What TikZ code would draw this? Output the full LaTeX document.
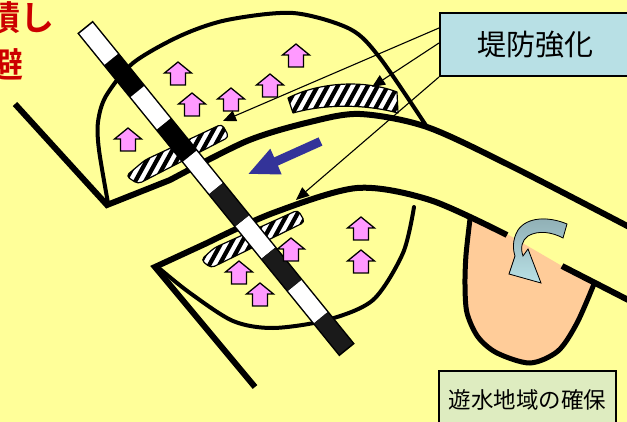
\documentclass[tikz,border=0pt]{standalone}
\usepackage{fontspec}
\newfontfamily\jp{Noto Sans CJK JP}[BoldFont={Noto Sans CJK JP Bold}]
\usetikzlibrary{arrows.meta,calc}

\definecolor{paper}{RGB}{255,255,153}
\definecolor{basin}{RGB}{255,204,153}
\definecolor{roof}{RGB}{255,153,255}
\definecolor{flow}{RGB}{51,51,153}
\definecolor{boxblue}{RGB}{184,224,229}
\definecolor{boxgreen}{RGB}{222,236,192}
\definecolor{alarm}{RGB}{204,0,0}
\definecolor{railgray}{RGB}{26,26,26}
\definecolor{inflowtop}{RGB}{143,174,180}
\definecolor{inflowbot}{RGB}{185,225,230}

% a house: roof apex at (#1,#2)
\newcommand\hut[2]{%
  \filldraw[fill=roof, draw=black, line width=1.3pt, line join=miter]
    (#1,#2) -- ++(13.5,11) -- ++(-6,0) -- ++(0,12) -- ++(-15,0) -- ++(0,-12) -- ++(-6,0) -- cycle;}

% a striped levee reinforcement patch
\newcommand\hatched[1]{%
  \begin{scope}
    \clip #1;
    \fill[white] (0,0) rectangle (627,422);
    \foreach \hx in {-200,-190,...,440}
      {\draw[line width=4.2pt] (\hx,300) -- ++(165,-300);}
  \end{scope}
  \draw[line width=1.2pt, line join=round] #1;}

\begin{document}
\begin{tikzpicture}[x=1pt,y=-1pt,
  bank/.style={line width=6pt},
  ringlevee/.style={line width=4pt, line cap=round},
  ptr/.style={line width=1.1pt, -{Triangle[length=13pt,width=11pt]}},
  labelbox/.style={draw, line width=2pt, anchor=north west, inner sep=0pt},
  warning/.style={anchor=base east, text=alarm, inner sep=0pt,
    font=\jp\bfseries\fontsize{34}{34}\selectfont}]

\useasboundingbox (0,0) rectangle (627,422);
\clip (0,0) rectangle (627,422);
\fill[paper] (0,0) rectangle (627,422);

% retarding basin
\fill[basin] (468,216) -- (507,234) -- (562,266) -- (596,283) --
  plot[smooth] coordinates {(594,284) (577,323) (558,351) (530,363) (497,353)
    (478,337) (467,313) (465,280) (468,240) (470,218)} -- cycle;

% reinforced levee sections
\hatched{[rounded corners=4pt] (126,176) -- (145,160) -- (222,124) -- (229,137) -- (138,184) -- cycle}
\hatched{(288,98) .. controls (315,84) and (360,78) .. (397,92) -- (398,113) .. controls (365,104) and (325,104) .. (293,113) -- cycle}
\hatched{[rounded corners=4pt] (201,260) -- (214,248) -- (298,210) -- (305,222) -- (211,268) -- cycle}

% river banks
\draw[bank] (15,104) -- (107,205) -- plot[smooth] coordinates {(170,180) (247,141) (310,122)
  (360,114) (427,127) (513,167) (635,230)};
\draw[bank] (255,387) -- (155,267) -- plot[smooth] coordinates {(207,243) (273,213) (357,188)
  (430,200) (507,235)};
\draw[bank] (562,266) -- (640,306);

% ring levees
\draw[ringlevee] plot[smooth] coordinates {(108,203) (99,150) (98,122) (106,96) (133,63)
  (180,36) (227,20) (293,13) (350,29) (380,58) (427,127)};
\draw[ringlevee] plot[smooth] coordinates {(160,269) (190,293) (233,321) (273,328)
  (327,320) (373,300) (403,253) (414,207)};

% basin rim
\draw[line width=5pt] plot[smooth] coordinates {(470,219) (466,255) (465,285) (467,313)
  (478,337) (497,353) (530,363) (558,351) (577,323) (594,284)};

% railway
\coordinate (railA) at (85,27);
\coordinate (railB) at (347,350);
\draw[line width=20pt] (railA) -- (railB);
\foreach \a/\b in {0.004/0.1, 0.2/0.3, 0.4/0.5, 0.6/0.7, 0.8/0.9}
  {\draw[white, line width=17pt] ($(railA)!\a!(railB)$) -- ($(railA)!\b!(railB)$);}
\foreach \a/\b in {0.5/0.6, 0.7/0.8, 0.9/0.996}
  {\draw[railgray, line width=17pt] ($(railA)!\a!(railB)$) -- ($(railA)!\b!(railB)$);}

% houses
\foreach \hx/\hy in {178/62, 296/44, 192/93, 231/88, 270/74, 128/128,
                     291/238, 361/217, 361/250, 239/261, 260/283}
  {\hut{\hx}{\hy}}

% flow direction
\fill[flow] (318.6,137.4) -- (322.4,145.6) -- (277.9,165.6) -- (281.7,174.5)
  -- (248.6,173.8) -- (270.3,148.7) -- (274.2,157.4) -- cycle;

% inflow into the basin
\filldraw[draw=black, line width=0.8pt, top color=inflowtop, bottom color=inflowbot]
  (567,224) .. controls (548,216) and (527,217) .. (518,230)
  .. controls (512,240) and (513,250) .. (515,256) -- (509,274) -- (541,283)
  -- (528,249) -- (523,256) .. controls (520,248) and (522,240) .. (528,236)
  .. controls (538,230) and (552,232) .. (563,238) -- cycle;

% labels
\node[labelbox, fill=boxblue, minimum width=190pt, minimum height=63pt,
  font=\jp\fontsize{29}{34}\selectfont] (levee) at (439,12) {堤防強化};
\node[labelbox, fill=boxgreen, minimum width=177pt, minimum height=58pt,
  font=\jp\fontsize{22.5}{26}\selectfont] (basinlabel) at (438,370) {遊水地域の確保};

\coordinate (tipA) at (223,121);
\coordinate (tipB) at (372,87);
\coordinate (tipC) at (296,200);
\draw[ptr] ($(levee.north west)+(0,16)$) -- (tipA);
\draw[ptr] ($(levee.north west)+(0,31)$) -- (tipB);
\draw[ptr] (levee.south west) -- (tipC);

\node[warning] (warnA) at (55,31) {積し};
\node[warning] (warnB) at (24,78) {避};
\end{tikzpicture}
\end{document}
